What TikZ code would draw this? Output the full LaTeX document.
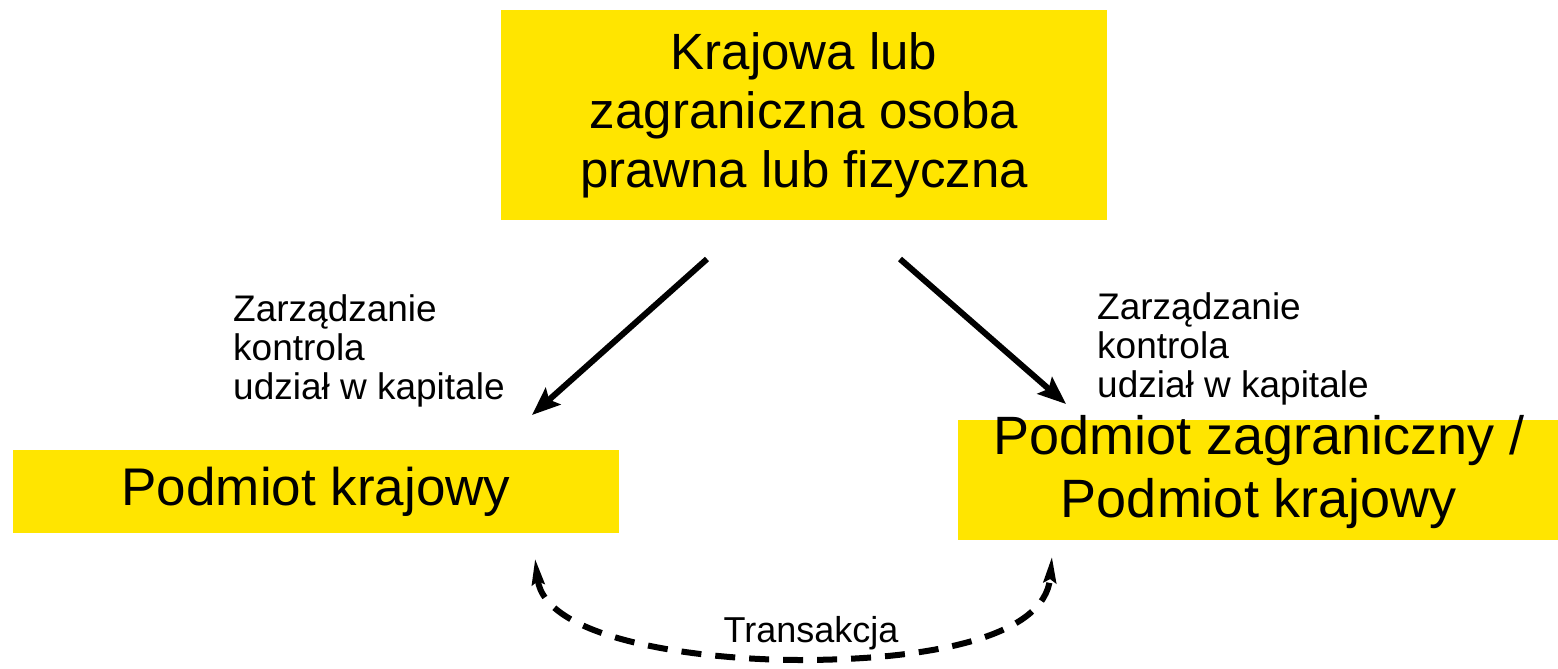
\documentclass[tikz,border=0pt]{standalone}
\usepackage{fontspec}
\setmainfont{Liberation Sans}
\usetikzlibrary{arrows.meta}
\definecolor{boxyellow}{HTML}{FFE500}
\begin{document}
\begin{tikzpicture}[x=1pt,y=-1pt,
  ybox/.style={fill=boxyellow, inner sep=0pt, align=center},
  bigtext/.style={font=\fontsize{53}{60}\selectfont},
  toptext/.style={font=\fontsize{51}{59}\selectfont},
  lbl/.style={font=\fontsize{37}{39}\selectfont, align=left, anchor=north west, inner sep=0pt},
  mainarrow/.style={line width=6pt, -{Stealth[length=28pt,width=22pt,inset=5pt]}},
  trans/.style={line width=6pt, dash pattern=on 20pt off 14pt, {Stealth[length=26pt,width=12pt,inset=3pt]}-{Stealth[length=26pt,width=12pt,inset=3pt]}}
]
\path[use as bounding box] (0,0) rectangle (1558,669);
\node[ybox, toptext, minimum width=606pt, minimum height=210pt] (top) at (804,115)
  {Krajowa lub\\zagraniczna osoba\\prawna lub fizyczna};
\node[ybox, bigtext, minimum width=606pt, minimum height=83pt] (left) at (316,491.5)
  {Podmiot krajowy};
\node[ybox, minimum width=600pt, minimum height=120pt] (rightbox) at (1258,480) {};
\node[align=center, inner sep=0pt, font=\fontsize{54}{63}\selectfont] (right) at (1259,472)
  {Podmiot zagraniczny /\\Podmiot krajowy};
\node[lbl] (ll) at (233,294) {Zarządzanie\\kontrola\\udział w kapitale};
\node[lbl] (rl) at (1097,292) {Zarządzanie\\kontrola\\udział w kapitale};
\coordinate (a1s) at (707,259);
\coordinate (a1e) at (532,415);
\coordinate (a2s) at (900,259);
\coordinate (a2e) at (1066,404);
\draw[mainarrow] (a1s) -- (a1e);
\draw[mainarrow] (a2s) -- (a2e);
\coordinate (t1) at (535,558);
\coordinate (tm) at (800,660);
\coordinate (t2) at (1052,556);
\draw[trans] (t1) .. controls (545,640) and (700,660) .. (tm) .. controls (920,660) and (1045,640) .. (t2);
\node[font=\fontsize{36}{40}\selectfont, inner sep=0pt] (tr) at (811,633) {Transakcja};
\end{tikzpicture}
\end{document}
